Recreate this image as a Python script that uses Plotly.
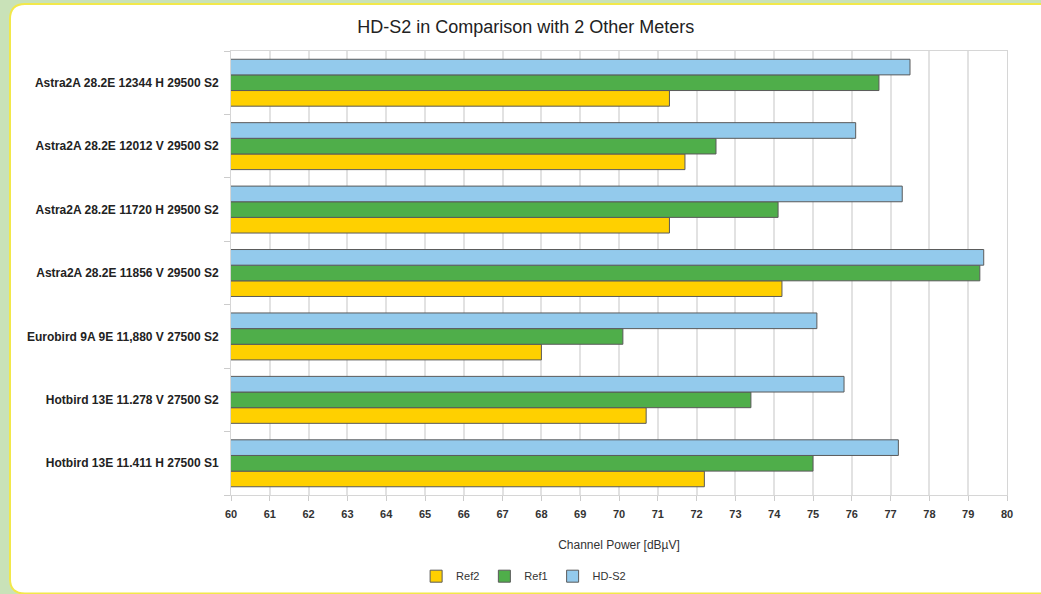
import plotly.graph_objects as go

categories = [
    "Hotbird 13E 11.411 H 27500 S1",
    "Hotbird 13E 11.278 V 27500 S2",
    "Eurobird 9A 9E 11,880 V 27500 S2",
    "Astra2A 28.2E 11856 V 29500 S2",
    "Astra2A 28.2E 11720 H 29500 S2",
    "Astra2A 28.2E 12012 V 29500 S2",
    "Astra2A 28.2E 12344 H 29500 S2",
]
ref2 = [72.2, 70.7, 68.0, 74.2, 71.3, 71.7, 71.3]
ref1 = [75.0, 73.4, 70.1, 79.3, 74.1, 72.5, 76.7]
hds2 = [77.2, 75.8, 75.1, 79.4, 77.3, 76.1, 77.5]
series_names = ["Ref2", "Ref1", "HD-S2"]
series_colors = ["#FFD000", "#4FAE4A", "#93CAEC"]
x_ticks = list(range(60, 81))

fig = go.Figure()
for name, vals, col in zip(series_names, [ref2, ref1, hds2], series_colors):
    fig.add_trace(go.Bar(
        y=categories, x=vals, name=name, orientation="h",
        marker=dict(color=col, line=dict(color="#5a5a5a", width=1)),
    ))

fig.update_layout(
    width=1041, height=594,
    margin=dict(l=231, r=34, t=51, b=99, autoexpand=False),
    paper_bgcolor="#c9e2b8",
    plot_bgcolor="white",
    barmode="group",
    bargap=0.26,
    bargroupgap=0,
    font=dict(family="Liberation Sans, Arial, sans-serif", color="#333"),
    title=dict(text="HD-S2 in Comparison with 2 Other Meters", x=0.505, xanchor="center",
               y=0.955, yanchor="middle", font=dict(size=18, color="#222")),
    legend=dict(orientation="h", x=0.503, xanchor="center", xref="container",
                y=0.030, yanchor="middle", yref="container",
                font=dict(size=11, color="#333"), traceorder="normal",
                itemwidth=30, bgcolor="rgba(0,0,0,0)"),
    showlegend=True,
    shapes=[dict(
        type="path", xref="paper", yref="paper", layer="below",
        path=("M -0.2848,-0.19 Q -0.2848,-0.222 -0.2655,-0.222 L 1.06,-0.222 L 1.06,1.106 "
              "L -0.2655,1.106 Q -0.2848,1.106 -0.2848,1.072 Z"),
        fillcolor="white", line=dict(color="#f2e84a", width=2),
    )],
)
fig.update_xaxes(
    range=[60, 80], tickvals=x_ticks, ticktext=[f"<b>{t}</b>" for t in x_ticks],
    ticks="outside", ticklen=5, tickcolor="#cccccc",
    showgrid=True, gridcolor="#e2e2e2", gridwidth=1.5,
    showline=True, linecolor="#d6d6d6", mirror=True,
    tickfont=dict(size=11, color="#333", family="Liberation Sans, Arial, sans-serif"),
    ticklabelstandoff=4,
    title=dict(text="Channel Power [dBµV]", font=dict(size=12, color="#333"), standoff=21),
    zeroline=False, automargin=False,
)
fig.update_yaxes(
    type="category", ticks="outside", ticklen=6, tickcolor="#cccccc", tickson="boundaries",
    tickvals=categories, ticktext=[f"<b>{c}</b>" for c in categories],
    showgrid=False, showline=True, linecolor="#d6d6d6", mirror=True,
    tickfont=dict(size=12, color="#222", family="Liberation Sans, Arial, sans-serif"),
    ticklabelstandoff=9, automargin=False,
)

fig.write_html("out.html", config={"displayModeBar": False},
               post_script="document.body.style.margin='0';document.body.style.overflow='hidden';")
